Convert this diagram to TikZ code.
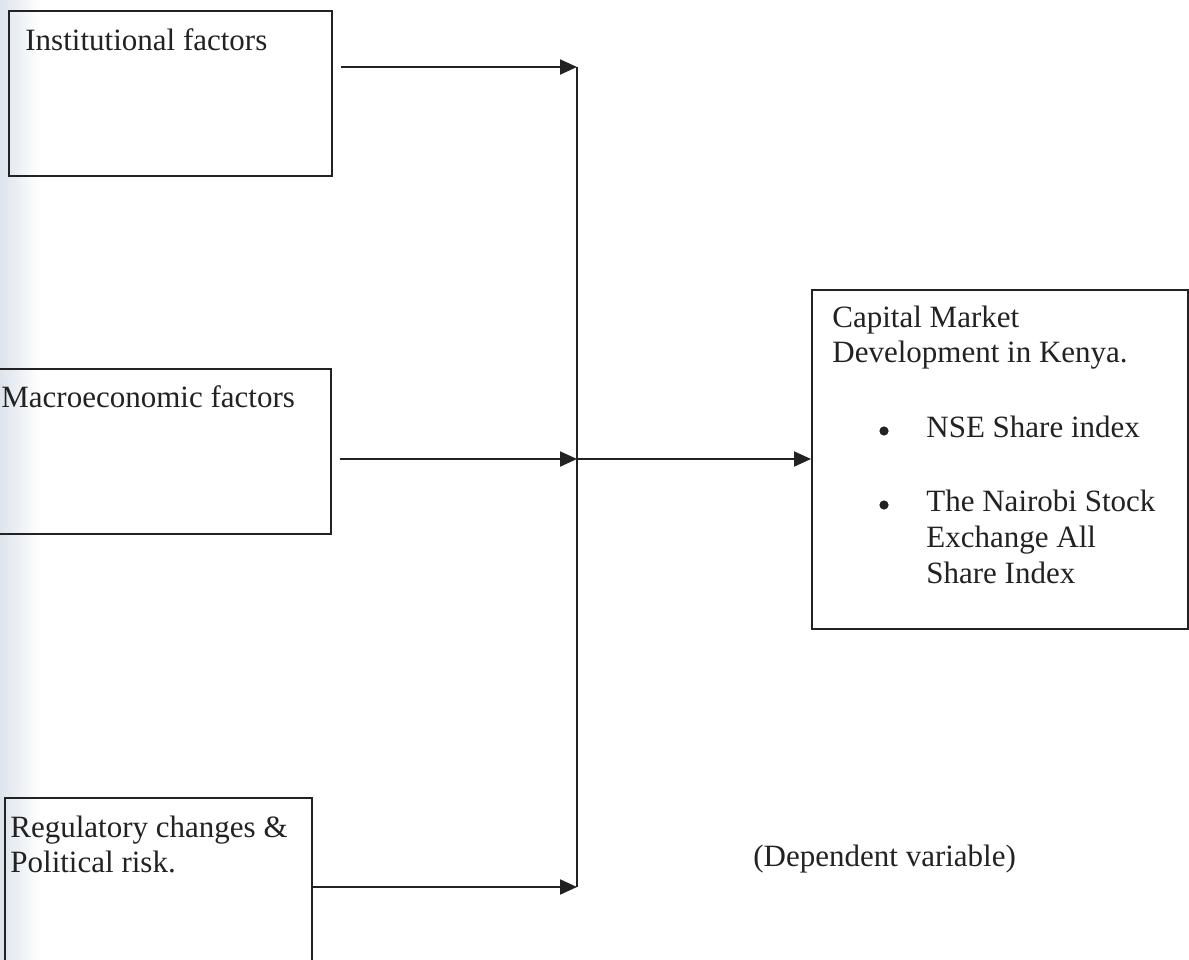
\documentclass[tikz,border=0pt]{standalone}
\usepackage{fontspec}
\setmainfont{Liberation Serif}
\usetikzlibrary{arrows.meta}
\definecolor{ink}{HTML}{222222}
\definecolor{scan}{HTML}{DDE4EC}
\tikzset{
  box/.style={draw=ink, line width=1pt, rectangle, inner sep=0pt, anchor=north west},
  lbl/.style={anchor=base west, inner sep=0pt, text=ink, font=\fontsize{15.5pt}{17.5pt}\selectfont},
  blt/.style={circle, fill=ink, inner sep=0pt, minimum size=4.6pt},
  conn/.style={draw=ink, line width=1pt},
  arr/.style={conn, -{Triangle[length=8.5pt,width=7.5pt]}}
}
\begin{document}
\begin{tikzpicture}[x=0.5pt,y=-0.5pt]
\useasboundingbox (0,0) rectangle (1189,959);
\clip (0,0) rectangle (1189,959);
\fill[white] (0,0) rectangle (1189,959);
\shade[left color=scan, right color=white] (0,0) rectangle (40,959);
% boxes
\node[box, minimum width=161.5pt, minimum height=82.5pt] (b1) at (8,10) {};
\node[box, minimum width=175pt, minimum height=82.5pt] (b2) at (-20,368) {};
\node[box, minimum width=153.5pt, minimum height=110pt] (b3) at (4,797) {};
\node[box, minimum width=188pt, minimum height=169.5pt] (out) at (811,289) {};
% texts
\node[lbl] (t1) at (25,50) {Institutional factors};
\node[lbl] (t2) at (1,407) {Macroeconomic factors};
\node[lbl] (t3a) at (10,837) {Regulatory changes \&};
\node[lbl] (t3b) at (10,872) {Political risk.};
\node[lbl] (o1) at (832,327) {Capital Market};
\node[lbl] (o2) at (832,362) {Development in Kenya.};
\node[blt] (bu1) at (884,431) {};
\node[lbl] (o3) at (926,437) {NSE Share index};
\node[blt] (bu2) at (884,505) {};
\node[lbl] (o4) at (926,511) {The Nairobi Stock};
\node[lbl] (o5) at (926,547) {Exchange All};
\node[lbl] (o6) at (926,583) {Share Index};
\node[lbl] (dv) at (753,866) {(Dependent variable)};
% connector points
\coordinate (s1) at (341,67);
\coordinate (s2) at (340,459);
\coordinate (s3) at (311,887);
\coordinate (j1) at (577,67);
\coordinate (j2) at (577,459);
\coordinate (j3) at (577,887);
\coordinate (e4) at (811,459);
% connectors
\draw[arr] (s1) -- (j1);
\draw[arr] (s2) -- (j2);
\draw[arr] (s3) -- (j3);
\draw[conn] (j1) -- (j3);
\draw[arr] (j2) -- (e4);
\end{tikzpicture}
\end{document}
